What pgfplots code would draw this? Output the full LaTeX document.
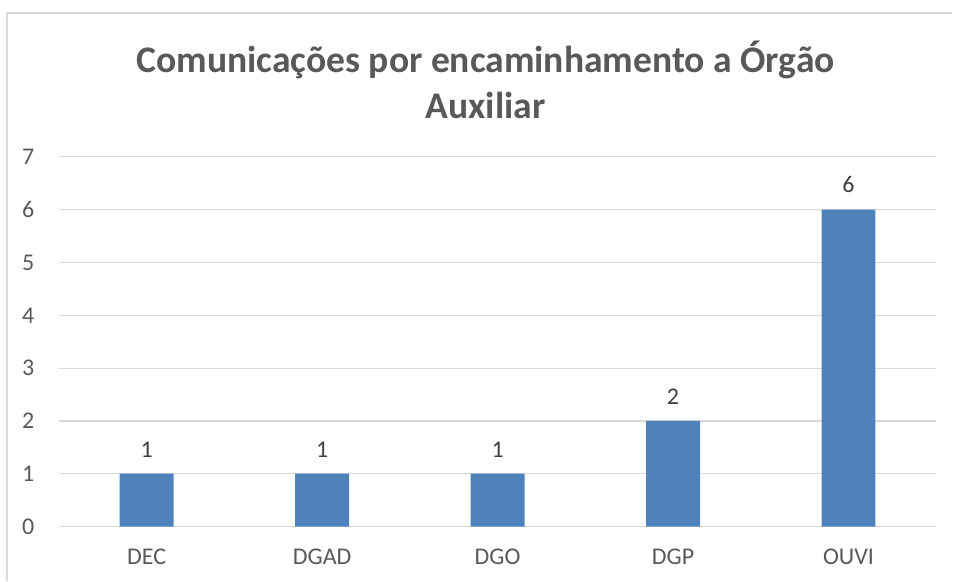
\documentclass[border=0pt]{standalone}
\usepackage{pgfplots}
\pgfplotsset{compat=1.18}
\usepackage{fontspec}
\setmainfont{Carlito}
\definecolor{barblue}{HTML}{4F81BD}
\definecolor{gridgray}{HTML}{D9D9D9}
\definecolor{txtgray}{HTML}{595959}
\definecolor{lblgray}{HTML}{404040}
\begin{document}
\begin{tikzpicture}[x=0.75pt,y=0.75pt]
\draw[gridgray, line width=1.2pt] (7,0) -- (7,568) -- (953,568);
\node[txtgray, font=\fontsize{28.2}{34}\selectfont\bfseries, align=center] at (486,501) {Comunicações por encaminhamento a Órgão\\Auxiliar};
\begin{axis}[
  at={(44.25pt,40.5pt)}, anchor=south west,
  scale only axis, width=658.5pt, height=277.5pt,
  xmin=-0.5, xmax=4.5, ymin=0, ymax=7,
  ytick={0,1,...,7},
  xtick=data,
  xticklabels={DEC,DGAD,DGO,DGP,OUVI},
  ymajorgrids, grid style={gridgray, line width=0.9pt},
  axis x line*=bottom, axis y line*=left,
  x axis line style={gridgray, line width=0.9pt, -},
  y axis line style={draw=none},
  major tick length=0pt,
  tick label style={txtgray, font=\fontsize{18}{22}\selectfont},
  /pgf/number format/assume math mode=true,
  yticklabel style={anchor=east, xshift=-15pt},
  xticklabel style={yshift=-13pt},
  ybar, bar width=40.5pt,
  nodes near coords,
  every node near coord/.append style={lblgray, font=\fontsize{18}{22}\selectfont, yshift=9pt},
  clip=false,
]
\addplot[fill=barblue, draw=none] coordinates {(0,1) (1,1) (2,1) (3,2) (4,6)};
\end{axis}
\path[use as bounding box] (0,0) rectangle (953,581);
\end{tikzpicture}
\end{document}
